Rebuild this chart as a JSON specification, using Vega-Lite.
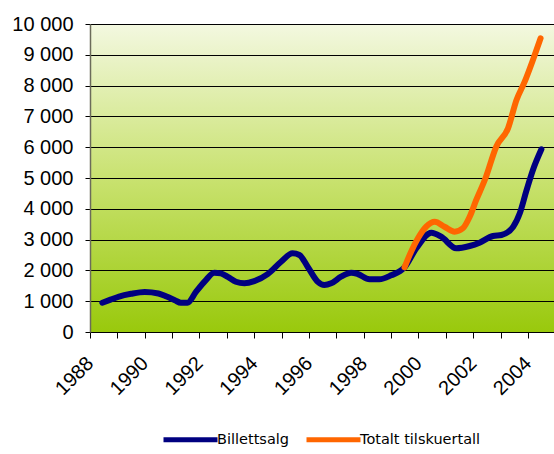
{
  "$schema": "https://vega.github.io/schema/vega-lite/v6.json",
  "width": 464,
  "height": 308,
  "autosize": "none",
  "padding": {"left": 90, "top": 24, "right": 0, "bottom": 122},
  "background": "white",
  "config": {
    "font": "Liberation Sans",
    "view": {
      "stroke": null,
      "fill": {"gradient": "linear", "x1": 0, "y1": 0, "x2": 0, "y2": 1,
        "stops": [{"offset": 0, "color": "#f3f8e0"}, {"offset": 0.5, "color": "#c9e270"}, {"offset": 1, "color": "#99c90c"}]}
    }
  },
  "data": {"values": [
    {"series": "Billettsalg", "year": 1988.45, "value": 950},
    {"series": "Billettsalg", "year": 1988.75, "value": 1050},
    {"series": "Billettsalg", "year": 1989.06, "value": 1150},
    {"series": "Billettsalg", "year": 1989.5, "value": 1240},
    {"series": "Billettsalg", "year": 1990.0, "value": 1300},
    {"series": "Billettsalg", "year": 1990.5, "value": 1250},
    {"series": "Billettsalg", "year": 1990.8, "value": 1150},
    {"series": "Billettsalg", "year": 1991.1, "value": 1030},
    {"series": "Billettsalg", "year": 1991.32, "value": 950},
    {"series": "Billettsalg", "year": 1991.56, "value": 950},
    {"series": "Billettsalg", "year": 1991.87, "value": 1300},
    {"series": "Billettsalg", "year": 1992.2, "value": 1650},
    {"series": "Billettsalg", "year": 1992.54, "value": 1925},
    {"series": "Billettsalg", "year": 1992.78, "value": 1905},
    {"series": "Billettsalg", "year": 1993.05, "value": 1780},
    {"series": "Billettsalg", "year": 1993.33, "value": 1633},
    {"series": "Billettsalg", "year": 1993.64, "value": 1580},
    {"series": "Billettsalg", "year": 1994.0, "value": 1650},
    {"series": "Billettsalg", "year": 1994.49, "value": 1880},
    {"series": "Billettsalg", "year": 1994.98, "value": 2280},
    {"series": "Billettsalg", "year": 1995.4, "value": 2555},
    {"series": "Billettsalg", "year": 1995.65, "value": 2500},
    {"series": "Billettsalg", "year": 1995.95, "value": 2120},
    {"series": "Billettsalg", "year": 1996.32, "value": 1633},
    {"series": "Billettsalg", "year": 1996.56, "value": 1526},
    {"series": "Billettsalg", "year": 1996.81, "value": 1580},
    {"series": "Billettsalg", "year": 1997.17, "value": 1795},
    {"series": "Billettsalg", "year": 1997.54, "value": 1925},
    {"series": "Billettsalg", "year": 1997.78, "value": 1883},
    {"series": "Billettsalg", "year": 1998.21, "value": 1711},
    {"series": "Billettsalg", "year": 1998.57, "value": 1711},
    {"series": "Billettsalg", "year": 1999.0, "value": 1840},
    {"series": "Billettsalg", "year": 1999.49, "value": 2100},
    {"series": "Billettsalg", "year": 1999.92, "value": 2717},
    {"series": "Billettsalg", "year": 2000.47, "value": 3224},
    {"series": "Billettsalg", "year": 2000.83, "value": 3094},
    {"series": "Billettsalg", "year": 2001.38, "value": 2717},
    {"series": "Billettsalg", "year": 2001.87, "value": 2792},
    {"series": "Billettsalg", "year": 2002.23, "value": 2899},
    {"series": "Billettsalg", "year": 2002.72, "value": 3117},
    {"series": "Billettsalg", "year": 2003.03, "value": 3149},
    {"series": "Billettsalg", "year": 2003.46, "value": 3419},
    {"series": "Billettsalg", "year": 2003.7, "value": 3853},
    {"series": "Billettsalg", "year": 2003.94, "value": 4580},
    {"series": "Billettsalg", "year": 2004.18, "value": 5260},
    {"series": "Billettsalg", "year": 2004.49, "value": 5932},
    {"series": "Totalt tilskuertall", "year": 1999.49, "value": 2100},
    {"series": "Totalt tilskuertall", "year": 1999.73, "value": 2607},
    {"series": "Totalt tilskuertall", "year": 1999.98, "value": 3041},
    {"series": "Totalt tilskuertall", "year": 2000.28, "value": 3419},
    {"series": "Totalt tilskuertall", "year": 2000.59, "value": 3581},
    {"series": "Totalt tilskuertall", "year": 2000.95, "value": 3419},
    {"series": "Totalt tilskuertall", "year": 2001.32, "value": 3256},
    {"series": "Totalt tilskuertall", "year": 2001.62, "value": 3367},
    {"series": "Totalt tilskuertall", "year": 2001.87, "value": 3743},
    {"series": "Totalt tilskuertall", "year": 2002.11, "value": 4286},
    {"series": "Totalt tilskuertall", "year": 2002.45, "value": 5000},
    {"series": "Totalt tilskuertall", "year": 2002.84, "value": 6016},
    {"series": "Totalt tilskuertall", "year": 2003.27, "value": 6613},
    {"series": "Totalt tilskuertall", "year": 2003.58, "value": 7532},
    {"series": "Totalt tilskuertall", "year": 2003.88, "value": 8127},
    {"series": "Totalt tilskuertall", "year": 2004.18, "value": 8831},
    {"series": "Totalt tilskuertall", "year": 2004.46, "value": 9535}
  ]},
  "mark": {"type": "line", "interpolate": "monotone", "strokeWidth": 6, "strokeCap": "round", "strokeJoin": "round"},
  "encoding": {
    "x": {
      "field": "year", "type": "quantitative",
      "scale": {"domain": [1988, 2004.95], "nice": false, "zero": false},
      "axis": {
        "title": null,
        "values": [1988, 1989, 1990, 1991, 1992, 1993, 1994, 1995, 1996, 1997, 1998, 1999, 2000, 2001, 2002, 2003, 2004],
        "labelExpr": "datum.value % 2 == 0 ? format(datum.value, 'd') : ''",
        "labelAngle": -45, "labelAlign": "right", "labelBaseline": "middle",
        "labelFontSize": 20, "labelColor": "black", "labelPadding": 22,
        "labelOverlap": false, "labelFlush": false,
        "grid": false, "domainColor": "black", "tickColor": "black", "tickSize": 6
      }
    },
    "y": {
      "field": "value", "type": "quantitative",
      "scale": {"domain": [0, 10000]},
      "axis": {
        "title": null,
        "values": [0, 1000, 2000, 3000, 4000, 5000, 6000, 7000, 8000, 9000, 10000],
        "labelExpr": "replace(format(datum.value, ','), ',', ' ')",
        "labelFontSize": 20, "labelColor": "black", "labelPadding": 12,
        "grid": true, "gridColor": "black", "gridOpacity": 1, "gridWidth": 1,
        "domainColor": "#6b6b5a", "domainWidth": 1.5,
        "tickColor": "black", "tickSize": 5
      }
    },
    "color": {
      "field": "series", "type": "nominal",
      "scale": {"domain": ["Billettsalg", "Totalt tilskuertall"], "range": ["#000080", "#ff6600"]},
      "legend": {
        "title": null, "orient": "none", "legendX": 71, "legendY": 386,
        "direction": "horizontal", "symbolType": "stroke", "symbolSize": 2916,
        "symbolStrokeWidth": 5, "labelFont": "DejaVu Sans", "labelFontSize": 14.5, "labelColor": "black",
        "labelOffset": -3, "columnPadding": 7
      }
    }
  }
}
